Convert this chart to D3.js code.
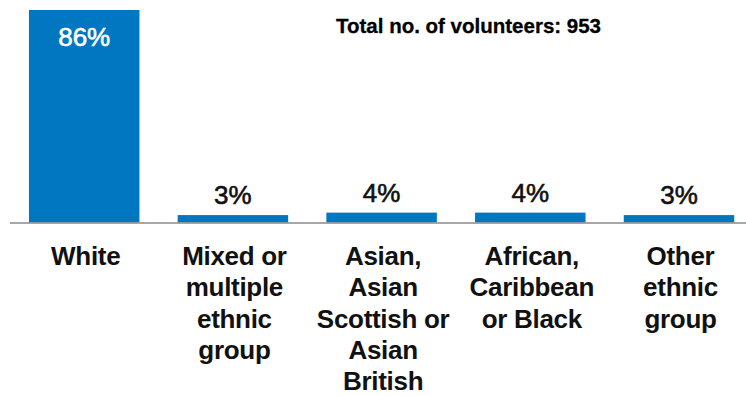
<!DOCTYPE html>
<html>
<head>
<meta charset="utf-8">
<script src="https://cdn.jsdelivr.net/npm/d3@7"></script>
<style>
  html, body { margin: 0; padding: 0; background: #ffffff; }
  svg { display: block; font-family: "Liberation Sans", Arial, sans-serif; }
</style>
</head>
<body>
<svg id="chart" width="746" height="396"></svg>
<script>
// Ethnic group of volunteers (share of total, %)
const categories = [
  ["White"],
  ["Mixed or", "multiple", "ethnic", "group"],
  ["Asian,", "Asian", "Scottish or", "Asian", "British"],
  ["African,", "Caribbean", "or Black"],
  ["Other", "ethnic", "group"]
];
const values = [86, 3, 4, 4, 3];
const valueLabels = ["86%", "3%", "4%", "4%", "3%"];
const totalLabel = "Total no. of volunteers: 953";

const svg = d3.select("#chart");
const barColor = "#0077c0";
const baseY = 222.5;

const keys = categories.map((c, i) => i);

const x = d3.scaleBand()
  .domain(keys)
  .range([9.85, 753.35])
  .paddingInner(0.257)
  .paddingOuter(0.1285);

const y = d3.scaleLinear()
  .domain([0, 86])
  .range([baseY, 10]);

// Bars
svg.append("g")
  .selectAll("rect")
  .data(values)
  .join("rect")
  .attr("x", (d, i) => x(i))
  .attr("y", d => y(d))
  .attr("width", x.bandwidth())
  .attr("height", d => baseY - y(d))
  .attr("fill", barColor);

// Baseline
const axis = d3.axisBottom(x).tickSize(0).tickFormat("");
const axisG = svg.append("g")
  .attr("transform", `translate(0,${baseY + 0.5})`)
  .call(axis);
axisG.select(".domain")
  .attr("d", "M10,0H746")
  .attr("stroke", "#8a8a8a")
  .attr("stroke-width", 1.6);

// Value labels: inside the tall bar, above the short ones
svg.append("g")
  .selectAll("text")
  .data(values)
  .join("text")
  .attr("x", (d, i) => x(i) + x.bandwidth() / 2)
  .attr("y", d => d > 20 ? y(d) + 36 : y(d) - 11)
  .attr("text-anchor", "middle")
  .attr("font-size", 26)
  .attr("fill", d => d > 20 ? "#ffffff" : "#111111")
  .attr("stroke", d => d > 20 ? "#ffffff" : "#111111")
  .attr("stroke-width", 0.6)
  .text((d, i) => valueLabels[i]);

// Category labels
const cat = svg.append("g")
  .selectAll("text")
  .data(categories)
  .join("text")
  .attr("x", (d, i) => x(i) + x.bandwidth() / 2 + 1.5)
  .attr("y", 265)
  .attr("text-anchor", "middle")
  .attr("font-size", 26)
  .attr("font-weight", "bold")
  .attr("letter-spacing", -0.3)
  .attr("fill", "#111111");
cat.selectAll("tspan")
  .data(d => d)
  .join("tspan")
  .attr("x", function () { return d3.select(this.parentNode).attr("x"); })
  .attr("dy", (d, j) => j === 0 ? 0 : 31.3)
  .text(d => d);

// Total
svg.append("text")
  .attr("x", 336)
  .attr("y", 33)
  .attr("font-size", 20.5)
  .attr("font-weight", "bold")
  .attr("fill", "#000000")
  .attr("stroke", "#000000")
  .attr("stroke-width", 0.3)
  .text(totalLabel);
</script>
</body>
</html>
